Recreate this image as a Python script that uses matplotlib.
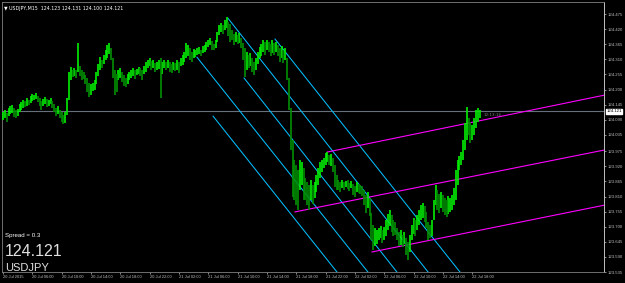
import numpy as np
import matplotlib.pyplot as plt
from matplotlib.transforms import blended_transform_factory

# USDJPY M15, one bar every 15 min from 20 Jul 02:00 (bar 0)
highs = [
    124.118, 124.125, 124.114, 124.133, 124.140, 124.143, 124.133, 124.125, 124.129, 124.147,
    124.154, 124.162, 124.158, 124.169, 124.162, 124.176, 124.184, 124.180, 124.187, 124.176,
    124.169, 124.158, 124.165, 124.173, 124.165, 124.162, 124.169, 124.158, 124.147, 124.133,
    124.140, 124.125, 124.118, 124.107, 124.118, 124.169, 124.264, 124.282, 124.271, 124.278,
    124.271, 124.369, 124.286, 124.271, 124.264, 124.253, 124.242, 124.224, 124.220, 124.224,
    124.235, 124.264, 124.293, 124.318, 124.307, 124.326, 124.344, 124.362, 124.369, 124.351,
    124.315, 124.271, 124.256, 124.271, 124.278, 124.264, 124.253, 124.242, 124.256, 124.264,
    124.271, 124.278, 124.271, 124.275, 124.282, 124.278, 124.271, 124.286, 124.300, 124.307,
    124.315, 124.304, 124.307, 124.296, 124.300, 124.307, 124.315, 124.300, 124.307, 124.300,
    124.307, 124.300, 124.293, 124.300, 124.296, 124.307, 124.300, 124.315, 124.326, 124.337,
    124.369, 124.362, 124.351, 124.337, 124.347, 124.344, 124.351, 124.355, 124.344, 124.358,
    124.362, 124.373, 124.380, 124.388, 124.377, 124.366, 124.380, 124.409, 124.435, 124.442,
    124.435, 124.453, 124.464, 124.446, 124.439, 124.417, 124.402, 124.409, 124.398, 124.406,
    124.388, 124.369, 124.351, 124.337, 124.326, 124.333, 124.315, 124.300, 124.315, 124.337,
    124.355, 124.366, 124.380, 124.373, 124.380, 124.373, 124.366, 124.380, 124.369, 124.373,
    124.362, 124.351, 124.358, 124.344, 124.351, 124.315, 124.242, 124.133, 124.016, 123.943,
    123.925, 123.907, 123.943, 123.936, 123.914, 123.878, 123.863, 123.852, 123.870, 123.852,
    123.863, 123.889, 123.914, 123.936, 123.943, 123.950, 123.969, 123.972, 123.961, 123.965,
    123.950, 123.925, 123.889, 123.870, 123.863, 123.870, 123.863, 123.867, 123.870, 123.859,
    123.867, 123.856, 123.848, 123.863, 123.856, 123.852, 123.848, 123.834, 123.816, 123.827,
    123.805, 123.750, 123.706, 123.695, 123.688, 123.695, 123.703, 123.688, 123.699, 123.725,
    123.746, 123.761, 123.743, 123.725, 123.717, 123.695, 123.681, 123.688, 123.670, 123.681,
    123.659, 123.644, 123.670, 123.706, 123.732, 123.725, 123.743, 123.761, 123.779, 123.787,
    123.776, 123.754, 123.717, 123.706, 123.725, 123.797, 123.852, 123.834, 123.819, 123.827,
    123.816, 123.805, 123.797, 123.812, 123.805, 123.816, 123.841, 123.907, 123.943, 123.958,
    123.972, 124.016, 124.078, 124.136, 124.096, 124.082, 124.071, 124.096, 124.125, 124.133,
    124.125,
]
lows = [
    124.089, 124.096, 124.082, 124.103, 124.111, 124.114, 124.100, 124.096, 124.103, 124.118,
    124.125, 124.133, 124.136, 124.140, 124.143, 124.151, 124.158, 124.162, 124.165, 124.154,
    124.140, 124.125, 124.140, 124.147, 124.136, 124.140, 124.147, 124.133, 124.118, 124.103,
    124.111, 124.096, 124.082, 124.074, 124.078, 124.107, 124.162, 124.235, 124.245, 124.249,
    124.242, 124.264, 124.249, 124.235, 124.238, 124.220, 124.191, 124.173, 124.180, 124.195,
    124.198, 124.220, 124.249, 124.271, 124.278, 124.293, 124.307, 124.315, 124.329, 124.307,
    124.242, 124.180, 124.191, 124.235, 124.242, 124.227, 124.213, 124.209, 124.220, 124.235,
    124.242, 124.249, 124.238, 124.253, 124.256, 124.249, 124.235, 124.256, 124.264, 124.278,
    124.286, 124.271, 124.278, 124.264, 124.271, 124.275, 124.169, 124.256, 124.278, 124.271,
    124.278, 124.264, 124.260, 124.271, 124.267, 124.271, 124.260, 124.286, 124.289, 124.300,
    124.315, 124.322, 124.307, 124.300, 124.315, 124.318, 124.326, 124.329, 124.322, 124.333,
    124.337, 124.344, 124.355, 124.362, 124.344, 124.344, 124.351, 124.373, 124.398, 124.409,
    124.402, 124.417, 124.424, 124.395, 124.373, 124.380, 124.362, 124.373, 124.366, 124.369,
    124.351, 124.307, 124.245, 124.271, 124.278, 124.286, 124.264, 124.253, 124.271, 124.293,
    124.315, 124.322, 124.337, 124.326, 124.344, 124.337, 124.322, 124.333, 124.326, 124.337,
    124.322, 124.300, 124.315, 124.296, 124.307, 124.235, 124.125, 123.980, 123.808, 123.797,
    123.779, 123.761, 123.834, 123.852, 123.797, 123.797, 123.779, 123.761, 123.797, 123.783,
    123.805, 123.827, 123.852, 123.878, 123.899, 123.914, 123.925, 123.936, 123.925, 123.921,
    123.899, 123.845, 123.834, 123.834, 123.827, 123.841, 123.834, 123.845, 123.837, 123.830,
    123.841, 123.816, 123.808, 123.827, 123.823, 123.819, 123.812, 123.779, 123.750, 123.768,
    123.739, 123.652, 123.615, 123.630, 123.637, 123.652, 123.659, 123.641, 123.652, 123.666,
    123.688, 123.703, 123.681, 123.666, 123.670, 123.652, 123.630, 123.633, 123.626, 123.637,
    123.597, 123.579, 123.608, 123.652, 123.673, 123.666, 123.688, 123.706, 123.725, 123.732,
    123.717, 123.695, 123.652, 123.659, 123.666, 123.725, 123.779, 123.761, 123.750, 123.768,
    123.754, 123.743, 123.735, 123.746, 123.754, 123.761, 123.779, 123.797, 123.852, 123.907,
    123.925, 123.943, 123.980, 124.016, 124.034, 124.005, 124.016, 124.034, 124.060, 124.082,
    124.096,
]

bid = 124.121
ohlc = [124.123, 124.131, 124.100, 124.121]
spread = 0.3

time_labels = ["20 Jul 2015", "20 Jul 06:00", "20 Jul 10:00", "20 Jul 14:00", "20 Jul 18:00",
               "20 Jul 22:00", "21 Jul 02:00", "21 Jul 06:00", "21 Jul 10:00", "21 Jul 14:00",
               "21 Jul 18:00", "21 Jul 22:00", "22 Jul 02:00", "22 Jul 06:00", "22 Jul 10:00",
               "22 Jul 14:00", "22 Jul 18:00"]
time_ticks = [0, 16, 32, 48, 64, 80, 96, 112, 128, 144, 160, 176, 192, 208, 224, 240, 256]

price_ticks = [124.475, 124.420, 124.365, 124.310, 124.255, 124.200, 124.145, 124.090, 124.035,
               123.975, 123.920, 123.865, 123.810, 123.755, 123.700, 123.645, 123.590, 123.535]

# trend lines: (bar start, price start, bar end, price end)
cyan_lines = [
    (105.8, 124.318, 199.1, 123.535),
    (114.6, 124.103, 182.2, 123.535),
    (122.7, 124.460, 231.9, 123.535),
    (131.5, 124.242, 214.9, 123.535),
    (148.4, 124.384, 249.3, 123.535),
]
magenta_lines = [
    (176.8, 123.972, 328.4, 124.180),
    (159.3, 123.754, 328.4, 123.980),
    (201.3, 123.608, 328.4, 123.779),
]

W, H = 625, 283
fig = plt.figure(figsize=(W / 100, H / 100), dpi=100, facecolor="black")
ax = fig.add_axes([2 / W, 11 / H, 602 / W, 270 / H], facecolor="black")

x = np.arange(len(highs))
hi = np.array(highs)
lo = np.array(lows)
mid = (hi + lo) / 2
up = np.r_[True, mid[1:] >= mid[:-1]]
ax.vlines(x[up], lo[up], hi[up], colors="#00f000", linewidth=1.2, zorder=3)
ax.vlines(x[~up], lo[~up], hi[~up], colors="#008f00", linewidth=1.2, zorder=3)

ax.axhline(bid, color="#66707c", linewidth=0.8, zorder=1)

for x0, y0, x1, y1 in cyan_lines:
    ax.plot([x0, x1], [y0, y1], color="#00bfff", linewidth=0.75, zorder=2)
for x0, y0, x1, y1 in magenta_lines:
    ax.plot([x0, x1], [y0, y1], color="#ff00ff", linewidth=0.8, zorder=2)

ax.set_xlim(-0.55, 327.9)
ax.set_ylim(123.535, 124.519)

ax.yaxis.tick_right()
ax.set_yticks(price_ticks)
ax.set_yticklabels([f"{p:.3f}" for p in price_ticks], family="Liberation Sans")
ax.set_xticks(time_ticks)
ax.set_xticklabels(time_labels, family="Liberation Sans")
ax.tick_params(axis="y", colors="#c0c0c0", labelsize=3.1, length=1.5, width=0.5, pad=0.8)
ax.tick_params(axis="x", colors="#c0c0c0", labelsize=2.9, length=1.5, width=0.5, pad=1)
for lab in ax.get_xticklabels():
    lab.set_ha("left")
for side in ["left", "top", "bottom"]:
    ax.spines[side].set_color("#808080")
    ax.spines[side].set_linewidth(0.6)
ax.spines["right"].set_color("#c0c0c0")
ax.spines["right"].set_linewidth(0.7)

tr = blended_transform_factory(ax.transAxes, ax.transData)
ax.text(1.004, bid, f"{bid:.3f}", transform=tr, fontsize=3.1, color="black", va="center",
        ha="left", family="Liberation Sans",
        bbox=dict(boxstyle="square,pad=0.15", fc="white", ec="white"), clip_on=False)

ax.text(262, bid - 0.012, "12:13:16", fontsize=3, color="#808080", va="center")

ax.text(0.004, 0.985, "\u25bc USDJPY,M15  " + " ".join(f"{v:.3f}" for v in ohlc),
        transform=ax.transAxes, fontsize=3.4, color="white", va="top")
ax.text(0.005, 0.13, f"Spread = {spread}", transform=ax.transAxes, fontsize=4.4,
        color="white", family="Liberation Sans", va="baseline")
ax.text(0.005, 0.058, f"{bid:.3f}", transform=ax.transAxes, fontsize=11.5,
        color="#e0e0e0", family="Liberation Sans", va="baseline")
ax.text(0.005, 0.004, "USDJPY", transform=ax.transAxes, fontsize=8,
        color="#e0e0e0", family="Liberation Sans", va="baseline")

fig.savefig("out.png", dpi=100, facecolor="black")
